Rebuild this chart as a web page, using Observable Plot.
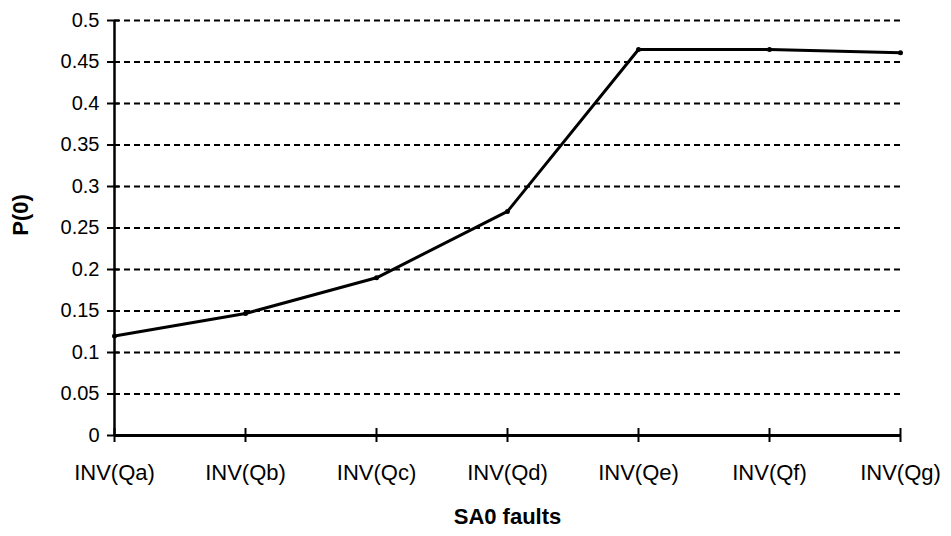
<!DOCTYPE html>
<html><head><meta charset="utf-8">
<script src="https://cdn.jsdelivr.net/npm/d3@7"></script>
<script src="https://cdn.jsdelivr.net/npm/@observablehq/plot@0.6"></script>
<style>body{margin:0;background:#fff}</style>
</head><body><div id="chart"></div>
<script>
const categories = ["INV(Qa)", "INV(Qb)", "INV(Qc)", "INV(Qd)", "INV(Qe)", "INV(Qf)", "INV(Qg)"];
const values = [0.12, 0.147, 0.19, 0.27, 0.465, 0.465, 0.461];
const yTicks = [0, 0.05, 0.1, 0.15, 0.2, 0.25, 0.3, 0.35, 0.4, 0.45, 0.5];
const xTitle = "SA0 faults";
const yTitle = "P(0)";

const data = categories.map((c, i) => ({c, v: values[i]}));

const plot = Plot.plot({
  width: 951, height: 536,
  marginLeft: 114, marginRight: 51, marginTop: 20, marginBottom: 101,
  style: {fontFamily: "'Liberation Sans', Arial, sans-serif", fontSize: "20px", color: "#000", background: "#fff"},
  x: {type: "point", domain: categories, padding: 0, label: null},
  y: {domain: [0, 0.5], label: null},
  marks: [
    Plot.ruleY(yTicks.filter(d => d > 0), {stroke: "#000", strokeWidth: 2.2, strokeDasharray: "6,4"}),
    Plot.line(data, {x: "c", y: "v", stroke: "#000", strokeWidth: 3}),
    Plot.dot(data, {x: "c", y: "v", r: 2.5, fill: "#000"}),
    Plot.ruleX([categories[0]], {stroke: "#000", strokeWidth: 2.5}),
    Plot.ruleY([0], {stroke: "#000", strokeWidth: 3}),
    Plot.ruleY(yTicks, {y: d => d, x1: () => categories[0], x2: () => categories[0], insetLeft: -7, insetRight: -5, stroke: "#000", strokeWidth: 2}),
    Plot.ruleX(categories, {x: d => d, y1: () => 0, y2: () => 0, insetTop: -7, insetBottom: -7, stroke: "#000", strokeWidth: 2}),
    Plot.axisY(yTicks, {tickSize: 0, tickPadding: 15, fontSize: 20, tickFormat: d => String(d), label: null}),
    Plot.axisX(categories, {tickSize: 0, tickPadding: 29, fontSize: 22, label: null}),
    Plot.text([xTitle], {frameAnchor: "bottom", lineAnchor: "middle", dy: 81, fontWeight: "bold", fontSize: 22}),
    Plot.text([yTitle], {frameAnchor: "left", textAnchor: "middle", lineAnchor: "middle", dx: -94, dy: -13, rotate: -90, fontWeight: "bold", fontSize: 22})
  ]
});
document.getElementById("chart").appendChild(plot);
</script>
</body></html>
